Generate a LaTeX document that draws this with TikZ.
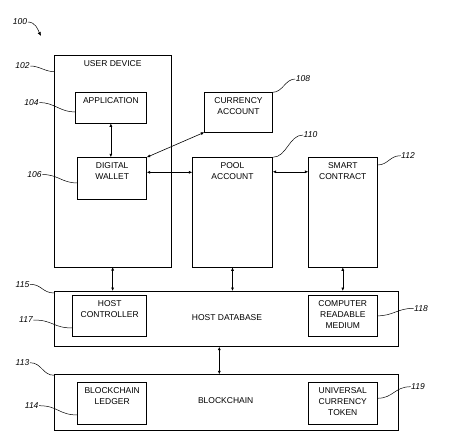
\documentclass[tikz,border=0pt]{standalone}
\usepackage{fontspec}
\setmainfont{Liberation Sans}
\usetikzlibrary{arrows.meta}
\newcommand{\boxfont}{\fontsize{8.5}{11}\selectfont}
\newcommand{\numfont}{\fontsize{8.5}{10}\selectfont\itshape}
\tikzset{
  box/.style={draw, line width=0.8pt, inner sep=0pt, outer sep=0pt, anchor=north west},
  boxtext/.style={anchor=north, yshift=-5pt, inner sep=0pt, align=center, font=\boxfont},
  refnum/.style={font=\numfont, inner sep=0.5pt},
  lead/.style={line width=0.5pt},
  arr/.style={line width=0.6pt, {Latex[length=3.5pt,width=3pt]}-{Latex[length=3.5pt,width=3pt]}}
}
\begin{document}
\begin{tikzpicture}[x=1pt, y=-1pt]
			%%%%% START %%%%%
			\useasboundingbox (0,0) rectangle (450,447);
			
			% user device and its parts
			\node[box, minimum width=116.7pt, minimum height=211.3pt, label={[boxtext]north:USER DEVICE}] (ud) at (54.3,55.7) {};
			\node[box, minimum width=71.7pt, minimum height=31pt, label={[boxtext]north:APPLICATION}] (app) at (75,92.3) {};
			\node[box, minimum width=69pt, minimum height=41.7pt, label={[boxtext]north:{DIGITAL\\WALLET}}] (wallet) at (77.7,157.3) {};
			
			% accounts and contract
			\node[box, minimum width=68.4pt, minimum height=40pt, label={[boxtext]north:{CURRENCY\\ACCOUNT}}] (cur) at (204.3,92.3) {};
			\node[box, minimum width=80.4pt, minimum height=110pt, label={[boxtext]north:{POOL\\ACCOUNT}}] (pool) at (192.3,157.3) {};
			\node[box, minimum width=69pt, minimum height=110pt, label={[boxtext]north:{SMART\\CONTRACT}}] (smart) at (308.3,157.3) {};
			
			% host database
			\node[box, minimum width=344pt, minimum height=55.7pt] (hostdb) at (54.3,291) {};
			\node[font=\boxfont] (hostdbtext) at (227,317.3) {HOST DATABASE};
			\node[box, minimum width=74pt, minimum height=41.7pt, label={[boxtext]north:{HOST\\CONTROLLER}}] (hc) at (72.7,295) {};
			\node[box, minimum width=69pt, minimum height=41.7pt, label={[boxtext]north:{COMPUTER\\READABLE\\MEDIUM}}] (crm) at (308.3,295) {};
			
			% blockchain
			\node[box, minimum width=344pt, minimum height=55.7pt] (bc) at (54.3,374.3) {};
			\node[font=\boxfont] (bctext) at (225.7,400.7) {BLOCKCHAIN};
			\node[box, minimum width=69pt, minimum height=41.7pt, label={[boxtext]north:{BLOCKCHAIN\\LEDGER}}] (bl) at (77.7,382.3) {};
			\node[box, minimum width=69pt, minimum height=41.7pt, label={[boxtext]north:{UNIVERSAL\\CURRENCY\\TOKEN}}] (uct) at (308.3,382.3) {};
			
			% connectors
			\draw[arr] (app.south) -- (app.south |- wallet.north);
			\draw[arr] (wallet.north east) -- (cur.south west);
			\draw[arr] ([yshift=-15pt]wallet.north east) -- ([yshift=-15pt]wallet.north east -| pool.west);
			\draw[arr] ([yshift=-14.5pt]pool.north east) -- ([yshift=-14.5pt]smart.north west);
			\draw[arr] (ud.south) -- (ud.south |- hostdb.north);
			\draw[arr] (pool.south) -- (pool.south |- hostdb.north);
			\draw[arr] (smart.south) -- (smart.south |- hostdb.north);
			\draw[arr] ([xshift=-7pt]hostdb.south) -- ([xshift=-7pt]bc.north);
			
			% reference numbers
			\node[refnum] (n100) at (20,22) {100};
			\coordinate (p100) at (41,36);
			\draw[lead, -{Latex[length=4pt,width=3.5pt]}] (n100.east) .. controls +(8,0) and +(-3,-6) .. (p100);
			
			\node[refnum] (n102) at (22.5,66) {102};
			\draw[lead] (n102.east) .. controls +(9,0) and +(-9,0) .. ([yshift=-16pt]ud.north west);
			\node[refnum] (n104) at (31.5,102.5) {104};
			\draw[lead] (n104.east) .. controls +(15,0) and +(-15,0) .. ([yshift=-19.7pt]app.north west);
			\node[refnum] (n106) at (34.5,174.5) {106};
			\draw[lead] (n106.east) .. controls +(16,0) and +(-16,0) .. ([yshift=-25.7pt]wallet.north west);
			\node[refnum] (n108) at (303,79) {108};
			\draw[lead] (cur.north east) .. controls +(10,0) and +(-10,0) .. (n108.west);
			\node[refnum] (n110) at (310.5,135) {110};
			\draw[lead] (pool.north east) .. controls +(14,0) and +(-14,0) .. (n110.west);
			\node[refnum] (n112) at (408,155.7) {112};
			\draw[lead] ([yshift=-7.7pt]smart.north east) .. controls +(11,0) and +(-11,0) .. (n112.west);
			
			\node[refnum] (n115) at (22.5,284.3) {115};
			\draw[lead] (n115.east) .. controls +(12,0) and +(-12,0) .. ([yshift=-2pt]hostdb.north west);
			\node[refnum] (n117) at (26,320) {117};
			\draw[lead] (n117.east) .. controls +(20,0) and +(-20,0) .. ([yshift=-33pt]hc.north west);
			\node[refnum] (n118) at (421,308.3) {118};
			\draw[lead] (crm.east) .. controls +(16,0) and +(-16,0) .. (n118.west);
			
			\node[refnum] (n113) at (22.5,362.7) {113};
			\draw[lead] (n113.east) .. controls +(12,0) and +(-12,0) .. ([yshift=-1pt]bc.north west);
			\node[refnum] (n114) at (31.7,405.7) {114};
			\draw[lead] (n114.east) .. controls +(19,0) and +(-19,0) .. ([yshift=-32.7pt]bl.north west);
			\node[refnum] (n119) at (418,386.7) {119};
			\draw[lead] ([yshift=-16pt]uct.north east) .. controls +(16,0) and +(-16,0) .. (n119.west);
			
			%%%%% END %%%%%
\end{tikzpicture}
\end{document}
